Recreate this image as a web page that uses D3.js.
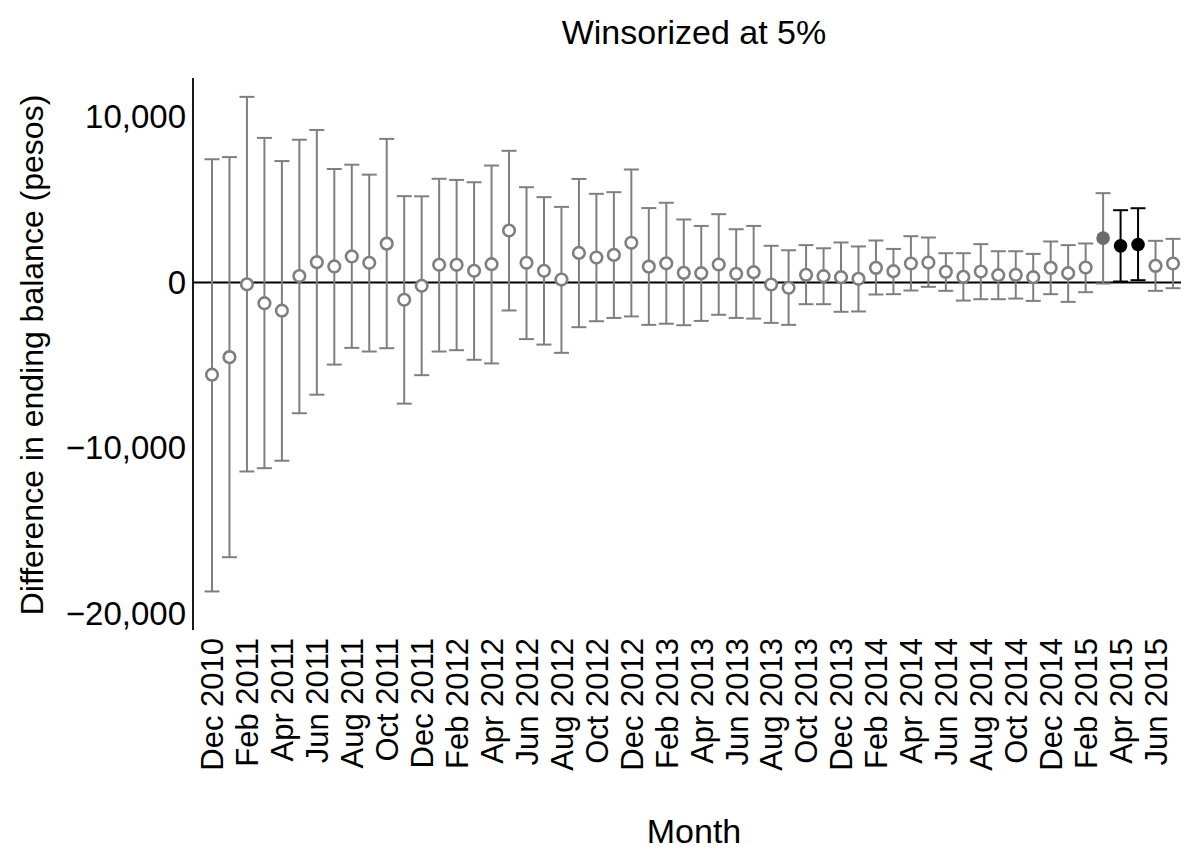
<!DOCTYPE html>
<html>
<head>
<meta charset="utf-8">
<script src="https://cdn.jsdelivr.net/npm/d3@7"></script>
<style>
  body { margin: 0; background: #fff; }
</style>
</head>
<body>
<div id="chart"></div>
<script>
const months = [
  "Dec 2010", "Jan 2011", "Feb 2011", "Mar 2011", "Apr 2011", "May 2011", "Jun 2011", "Jul 2011",
  "Aug 2011", "Sep 2011", "Oct 2011", "Nov 2011", "Dec 2011", "Jan 2012", "Feb 2012", "Mar 2012",
  "Apr 2012", "May 2012", "Jun 2012", "Jul 2012", "Aug 2012", "Sep 2012", "Oct 2012", "Nov 2012",
  "Dec 2012", "Jan 2013", "Feb 2013", "Mar 2013", "Apr 2013", "May 2013", "Jun 2013", "Jul 2013",
  "Aug 2013", "Sep 2013", "Oct 2013", "Nov 2013", "Dec 2013", "Jan 2014", "Feb 2014", "Mar 2014",
  "Apr 2014", "May 2014", "Jun 2014", "Jul 2014", "Aug 2014", "Sep 2014", "Oct 2014", "Nov 2014",
  "Dec 2014", "Jan 2015", "Feb 2015", "Mar 2015", "Apr 2015", "May 2015", "Jun 2015", "Jul 2015"
];

const estimate = [
  -5570, -4510, -110, -1250, -1700, 390, 1230, 970, 1575, 1190, 2350, -1040, -200, 1070, 1070, 705,
  1110, 3140, 1190, 705, 180, 1790, 1510, 1670, 2400, 960, 1160, 584, 564, 1090, 524, 624,
  -120, -320, 463, 383, 322, 222, 886, 685, 1148, 1208, 644, 342, 665, 443, 463, 322,
  886, 564, 906, 2680, 2215, 2296, 1007, 1148
];

const ciLow = [
  -18670, -16600, -11420, -11220, -10770, -7900, -6780, -4960, -3950, -4170, -3970, -7320, -5600, -4170, -4090, -4670,
  -4890, -1690, -3420, -3750, -4250, -2700, -2340, -2140, -2050, -2560, -2490, -2580, -2320, -1950, -2140, -2180,
  -2440, -2560, -1310, -1310, -1770, -1750, -725, -705, -483, -262, -503, -1090, -1010, -1010, -970, -1110,
  -705, -1170, -584, -60, 60, 140, -503, -342
];

const ciHigh = [
  7450, 7580, 11220, 8740, 7340, 8630, 9220, 6860, 7120, 6520, 8680, 5220, 5210, 6270, 6200, 6060,
  7070, 7960, 5760, 5160, 4570, 6260, 5360, 5460, 6830, 4500, 4820, 3810, 3420, 4130, 3220, 3420,
  2220, 1950, 2260, 2070, 2420, 2180, 2540, 2030, 2800, 2720, 1770, 1770, 2320, 1890, 1890, 1730,
  2480, 2260, 2360, 5400, 4370, 4490, 2520, 2640
];

// months that are drawn differently
const partialMonths = ["Mar 2015"];
const treatedMonths = ["Apr 2015", "May 2015"];

const tickLabels = [
  "Dec 2010", "Feb 2011", "Apr 2011", "Jun 2011", "Aug 2011", "Oct 2011", "Dec 2011",
  "Feb 2012", "Apr 2012", "Jun 2012", "Aug 2012", "Oct 2012", "Dec 2012", "Feb 2013",
  "Apr 2013", "Jun 2013", "Aug 2013", "Oct 2013", "Dec 2013", "Feb 2014", "Apr 2014",
  "Jun 2014", "Aug 2014", "Oct 2014", "Dec 2014", "Feb 2015", "Apr 2015", "Jun 2015"
];
const yTicks = [-20000, -10000, 0, 10000];

const width = 1191;
const height = 850;
const font = "'Liberation Sans', Arial, sans-serif";
const grey = "#7f7f7f";

const data = months.map((m, i) => ({
  month: m,
  est: estimate[i],
  lo: ciLow[i],
  hi: ciHigh[i],
  kind: treatedMonths.includes(m) ? "treated" : partialMonths.includes(m) ? "partial" : "base",
}));

const svg = d3.select("#chart").append("svg")
  .attr("width", width)
  .attr("height", height)
  .style("font-family", font);

const panelLeft = 193;
const panelRight = 1181;
const panelTop = 78;
const panelBottom = 630;

const x = d3.scalePoint()
  .domain(months)
  .range([212, 1173]);

const y = d3.scaleLinear()
  .domain([-21000, 12360])
  .range([panelBottom, panelTop]);

// zero reference line
svg.append("line")
  .attr("x1", panelLeft).attr("x2", panelRight)
  .attr("y1", y(0)).attr("y2", y(0))
  .attr("stroke", "#000")
  .attr("stroke-width", 1.8);

// y axis
const yAxis = svg.append("g")
  .attr("transform", `translate(${panelLeft},0)`)
  .call(d3.axisLeft(y).tickValues(yTicks).tickSize(0).tickPadding(7)
    .tickFormat(d => d3.format(",")(d).replace("-", "\u2212")));
yAxis.select(".domain")
  .attr("d", `M0,${panelTop}V${panelBottom}`)
  .attr("stroke", "#000")
  .attr("stroke-width", 1.8);
yAxis.selectAll("text")
  .attr("font-size", "33px")
  .attr("font-family", font)
  .attr("fill", "#000");

// x axis labels, rotated
const xAxis = svg.append("g")
  .attr("transform", `translate(0,${panelBottom})`)
  .call(d3.axisBottom(x).tickValues(tickLabels).tickSize(0).tickPadding(0));
xAxis.select(".domain").remove();
xAxis.selectAll("text")
  .attr("font-size", "31px")
  .attr("font-family", font)
  .attr("fill", "#000")
  .attr("transform", "rotate(-90)")
  .attr("text-anchor", "end")
  .attr("x", -8)
  .attr("y", 0)
  .attr("dy", "0.35em");

// error bars
const capHalf = 7.5;
const bars = svg.append("g").selectAll("g")
  .data(data)
  .join("g")
  .attr("stroke", d => d.kind === "treated" ? "#000" : grey)
  .attr("stroke-width", 2);

bars.append("line")
  .attr("x1", d => x(d.month)).attr("x2", d => x(d.month))
  .attr("y1", d => y(d.lo)).attr("y2", d => y(d.hi));
bars.append("line")
  .attr("x1", d => x(d.month) - capHalf).attr("x2", d => x(d.month) + capHalf)
  .attr("y1", d => y(d.hi)).attr("y2", d => y(d.hi));
bars.append("line")
  .attr("x1", d => x(d.month) - capHalf).attr("x2", d => x(d.month) + capHalf)
  .attr("y1", d => y(d.lo)).attr("y2", d => y(d.lo));

// points
svg.append("g").selectAll("circle")
  .data(data)
  .join("circle")
  .attr("cx", d => x(d.month))
  .attr("cy", d => y(d.est))
  .attr("r", d => d.kind === "base" ? 5.8 : 6.8)
  .attr("fill", d => d.kind === "treated" ? "#000" : d.kind === "partial" ? "#6b6b6b" : "#fff")
  .attr("stroke", d => d.kind === "base" ? grey : "none")
  .attr("stroke-width", 2.6);

// titles
svg.append("text")
  .attr("x", 694).attr("y", 44)
  .attr("text-anchor", "middle")
  .attr("font-size", "34px")
  .text("Winsorized at 5%");

svg.append("text")
  .attr("x", 694).attr("y", 843)
  .attr("text-anchor", "middle")
  .attr("font-size", "34px")
  .text("Month");

svg.append("text")
  .attr("transform", `translate(43,355) rotate(-90)`)
  .attr("text-anchor", "middle")
  .attr("font-size", "32px")
  .text("Difference in ending balance (pesos)");
</script>
</body>
</html>
